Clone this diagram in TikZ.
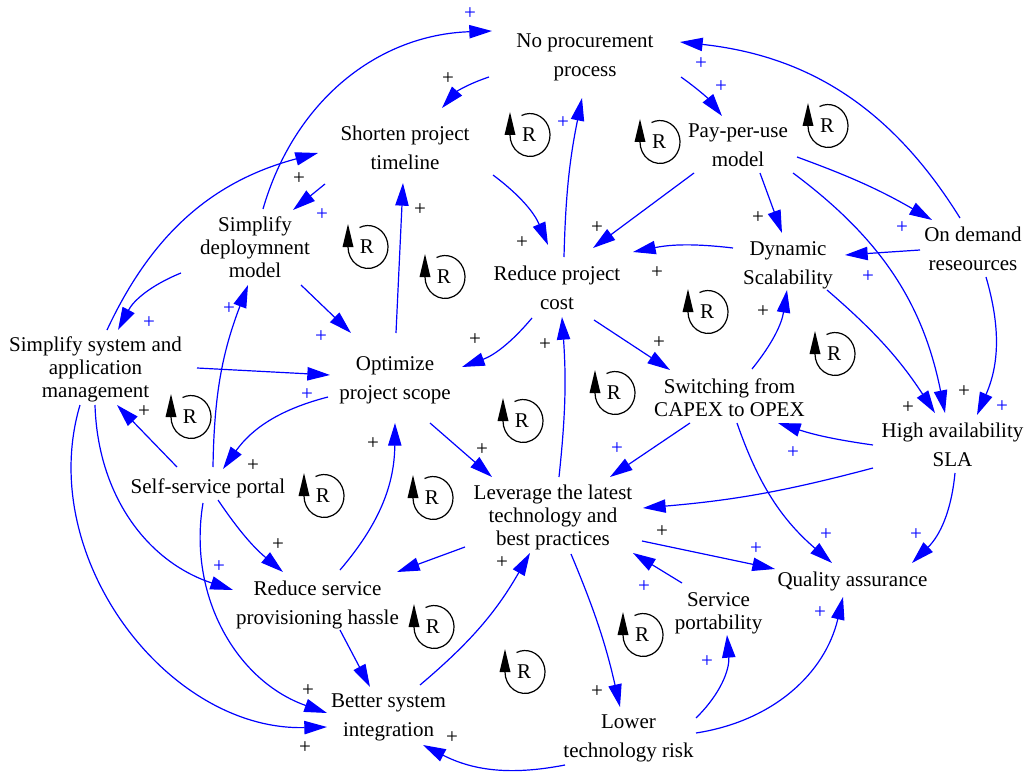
\documentclass[tikz,border=0pt]{standalone}
\usepackage{fontspec}
\setmainfont{Liberation Serif}
\usetikzlibrary{arrows.meta}
\newcommand\rloop[3]{%
  \node[rtext] (#1) at (#2,#3) {R};
  \draw[rline] ([shift={(-5.59pt,14.59pt)}]#1.center) arc[start angle=115, end angle=-180, x radius=15pt, y radius=16.1pt];
  \fill ([shift={(-18.375pt,0pt)}]#1.center) -- ([shift={(-10.125pt,0pt)}]#1.center) -- ([shift={(-14.25pt,17.25pt)}]#1.center) -- cycle;}
\begin{document}
\begin{tikzpicture}[x=0.75pt,y=-0.75pt,
  var/.style={align=center, inner sep=0pt, font=\fontsize{15.75pt}{21.75pt}\selectfont,
    execute at begin node={\rule{0pt}{11.25pt}},
    execute at end node={\rule[-3.75pt]{0pt}{3.75pt}}},
  tight/.style={font=\fontsize{15.75pt}{17.25pt}\selectfont},
  pk/.style={inner sep=0pt, font=\fontsize{15.75pt}{18pt}\selectfont},
  pb/.style={pk, text=blue},
  rtext/.style={inner sep=0pt, font=\fontsize{15.75pt}{18pt}\selectfont},
  rline/.style={draw=black, line width=0.9pt},
  conn/.style={draw=blue, line width=0.9pt, -{Triangle[length=17pt,width=10pt]}}]
\useasboundingbox (0,0) rectangle (1026,774);
% variables
\node[var] (np) at (585,57.5) {No procurement\\process};
\node[var] (spt) at (405,150) {Shorten project\\timeline};
\node[var] (ppu) at (738,147.5) {Pay-per-use\\model};
\node[var,tight] (sdm) at (255,250) {Simplify\\deploymnent\\model};
\node[var] (rpc) at (557,290) {Reduce project\\cost};
\node[var] (ds) at (788,265.5) {Dynamic\\Scalability};
\node[var] (odr) at (973,251.5) {On demand\\reseources};
\node[var,tight] (ssam) at (95.5,370) {Simplify system and\\application\\management};
\node[var] (ops) at (395,381) {Optimize\\project scope};
\node[var,tight] (sco) at (729.5,400) {Switching from\\CAPEX to OPEX};
\node[var] (has) at (952.5,447) {High availability\\SLA};
\node[var] (ssp) at (208,488) {Self-service portal};
\node[var,tight] (llt) at (553,518) {Leverage the latest\\technology and\\best practices};
\node[var] (qa) at (852.5,581) {Quality assurance};
\node[var] (rsph) at (317.5,605) {Reduce service\\provisioning hassle};
\node[var,tight] (sp) at (718.5,613.5) {Service\\portability};
\node[var] (bsi) at (388.5,718) {Better system\\integration};
\node[var] (ltr) at (628.5,739) {Lower\\technology risk};
% loops
\rloop{r1}{529}{135}
\rloop{r2}{659}{142}
\rloop{r3}{827}{126}
\rloop{r4}{367}{247}
\rloop{r5}{444}{277}
\rloop{r6}{707}{312}
\rloop{r7}{834}{354}
\rloop{r8}{614}{393}
\rloop{r9}{522}{421}
\rloop{r10}{190}{417}
\rloop{r11}{323}{496}
\rloop{r12}{432}{498}
\rloop{r13}{433}{627}
\rloop{r14}{524}{672}
\rloop{r15}{642}{635}
% connectors
\draw[conn] ([shift={(8,-41)}]sdm.center) to[bend left=36] ([shift={(-93,-26.5)}]np.center);
\draw[conn] ([shift={(-96,19.5)}]np.center) to[bend right=15] ([shift={(37,-42)}]spt.center);
\draw[conn] ([shift={(11.5,-40)}]ssam.center) to[bend left=25] ([shift={(-87,3)}]spt.center);
\draw[conn] ([shift={(-80,34)}]spt.center) -- ([shift={(38,-40)}]sdm.center);
\draw[conn] ([shift={(-74,23)}]sdm.center) to[bend right=20] ([shift={(22.5,-40)}]ssam.center);
\draw[conn] ([shift={(46,35)}]sdm.center) -- ([shift={(-44,-48)}]ops.center);
\draw[conn] ([shift={(101.5,-2)}]ssam.center) -- ([shift={(-65,-6)}]ops.center);
\draw[conn] ([shift={(-67,16)}]ops.center) to[bend right=20] ([shift={(15,-19)}]ssp.center);
\draw[conn] ([shift={(-31,-21)}]ssp.center) -- ([shift={(21.5,35)}]ssam.center);
\draw[conn] ([shift={(5,-21)}]ssp.center) to[bend left=10] ([shift={(-7,35)}]sdm.center);
\draw[conn] ([shift={(1,-48)}]ops.center) -- ([shift={(-2,33)}]spt.center);
\draw[conn] ([shift={(35,42)}]ops.center) -- ([shift={(-61,-41)}]llt.center);
\draw[conn] ([shift={(-25,28)}]rpc.center) to[bend left=15] ([shift={(67,-14)}]ops.center);
\draw[conn] ([shift={(22.5,-35)}]rsph.center) to[bend right=20] ([shift={(0,42)}]ops.center);
\draw[conn] ([shift={(6,-41)}]llt.center) to[bend right=5] ([shift={(5,27)}]rpc.center);
\draw[conn] ([shift={(7,-33)}]rpc.center) to[bend left=5] ([shift={(-3,40.5)}]np.center);
\draw[conn] ([shift={(88,25)}]spt.center) to[bend left=15] ([shift={(-9,-45)}]rpc.center);
\draw[conn] ([shift={(96,19.5)}]np.center) to[bend left=8] ([shift={(-16,-31.5)}]ppu.center);
\draw[conn] ([shift={(-44,25.5)}]ppu.center) -- ([shift={(36,-42)}]rpc.center);
\draw[conn] ([shift={(22,25.5)}]ppu.center) -- ([shift={(-6,-32.5)}]ds.center);
\draw[conn] ([shift={(59,9.5)}]ppu.center) to[bend left=5] ([shift={(-41,-31.5)}]odr.center);
\draw[conn] ([shift={(55,25.5)}]ppu.center) to[bend left=21] ([shift={(-7.5,-34)}]has.center);
\draw[conn] ([shift={(-13,-33.5)}]odr.center) to[bend right=26] ([shift={(95,-15.5)}]np.center);
\draw[conn] ([shift={(-53,-1.5)}]odr.center) -- ([shift={(57,-10.5)}]ds.center);
\draw[conn] ([shift={(-55,-17.5)}]ds.center) to[bend right=9] ([shift={(76,-38)}]rpc.center);
\draw[conn] ([shift={(39,24.5)}]ds.center) to[bend left=8] ([shift={(-17.5,-34)}]has.center);
\draw[conn] ([shift={(13,25.5)}]odr.center) to[bend left=20] ([shift={(24.5,-32)}]has.center);
\draw[conn] ([shift={(37,30)}]rpc.center) -- ([shift={(-59.5,-30)}]sco.center);
\draw[conn] ([shift={(22.5,-31)}]sco.center) to[bend right=15] ([shift={(-1,24.5)}]ds.center);
\draw[conn] ([shift={(-39.5,23)}]sco.center) -- ([shift={(57,-41)}]llt.center);
\draw[conn] ([shift={(-79.5,-2)}]has.center) to[bend left=5] ([shift={(48.5,23)}]sco.center);
\draw[conn] ([shift={(-79.5,21)}]has.center) to[bend left=5] ([shift={(90,-10)}]llt.center);
\draw[conn] ([shift={(7.5,23)}]sco.center) to[bend right=15] ([shift={(-20.5,-18)}]qa.center);
\draw[conn] ([shift={(2.5,26)}]has.center) to[bend left=20] ([shift={(59.5,-18)}]qa.center);
\draw[conn] ([shift={(89,23)}]llt.center) -- ([shift={(-77.5,-12)}]qa.center);
\draw[conn] ([shift={(-36.5,-30.5)}]sp.center) -- ([shift={(80,35)}]llt.center);
\draw[conn] ([shift={(18,36)}]llt.center) to[bend left=5] ([shift={(-8.5,-32)}]ltr.center);
\draw[conn] ([shift={(67.5,-21)}]ltr.center) to[bend right=25] ([shift={(8.5,21.5)}]sp.center);
\draw[conn] ([shift={(67.5,-6)}]ltr.center) to[bend right=34] ([shift={(-9.5,16)}]qa.center);
\draw[conn] ([shift={(-63.5,26)}]ltr.center) to[bend left=19] ([shift={(34.5,27)}]bsi.center);
\draw[conn] ([shift={(31.5,-33)}]bsi.center) to[bend right=10] ([shift={(-23,35)}]llt.center);
\draw[conn] ([shift={(22.5,25)}]rsph.center) -- ([shift={(-18.5,-31)}]bsi.center);
\draw[conn] ([shift={(-88,29)}]llt.center) -- ([shift={(79.5,-33)}]rsph.center);
\draw[conn] ([shift={(10,12)}]ssp.center) to[bend right=8] ([shift={(-34.5,-33)}]rsph.center);
\draw[conn] ([shift={(-5,15)}]ssp.center) to[bend right=40] ([shift={(-61.5,-5)}]bsi.center);
\draw[conn] ([shift={(-0.5,35)}]ssam.center) to[bend right=35] ([shift={(-84.5,-15)}]rsph.center);
\draw[conn] ([shift={(-15.5,35)}]ssam.center) to[bend right=54] ([shift={(-61.5,9)}]bsi.center);
% polarity signs
\foreach \x/\y [count=\i] in {448/79,299/179,253/466,144/412,420/210,482/450,475/340,373/444,545/345,522/243,597/228,758/218,964/392,908/408,657/273,659/343,763/312,662/532,597/692,452/738,502/563,278/545,308/691,305/748}
  \node[pk] (k\i) at (\x,\y) {+};
\foreach \x/\y [count=\i] in {470/14,322/215,149/323,321/337,307/395,229/309,563/123,701/64,721/87,902/228,1002/407,868/277,617/449,793/453,826/535,916/535,756/549,644/587,707/662,820/613,219/567}
  \node[pb] (b\i) at (\x,\y) {+};
\end{tikzpicture}
\end{document}
